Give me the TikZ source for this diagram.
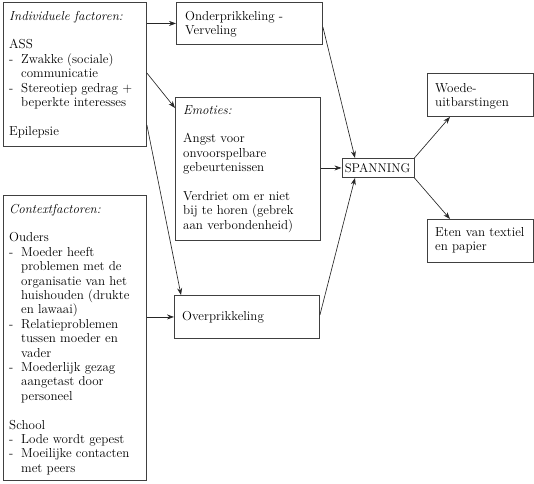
\documentclass[tikz,border=0pt]{standalone}
\usetikzlibrary{arrows.meta}
\newcommand{\itm}[1]{\makebox[12pt][l]{-}#1}
\newcommand{\ind}{\hspace*{12pt}}
\begin{document}
\begin{tikzpicture}[x=1pt,y=-1pt,
  box/.style={draw=black!75,line width=0.9pt,anchor=north west,inner sep=0pt,minimum width=#1},
  txt/.style={anchor=base west,inner sep=0pt,font=\fontsize{13}{14.4}\selectfont},
  arr/.style={draw=black!85,line width=0.65pt,-{Stealth[length=7pt,width=5pt]}}]
\useasboundingbox (0,0) rectangle (534,483);
% boxes
\node[box=143pt,minimum height=144pt] (b1) at (3,2) {};
\node[box=143pt,minimum height=285pt] (b2) at (3,195) {};
\node[box=146pt,minimum height=42pt] (bon) at (176,2) {};
\node[box=145pt,minimum height=143pt] (bem) at (175,97) {};
\node[box=145pt,minimum height=43pt] (bov) at (174,295) {};
\node[box=72pt,minimum height=19pt] (bsp) at (341.5,158) {};
\node[box=106pt,minimum height=43pt] (bwo) at (427,73) {};
\node[box=106pt,minimum height=43pt] (bet) at (427,219) {};
% texts
\node[txt] (t1) at (9,20) {\parbox[t]{140pt}{\fontsize{13}{14.4}\selectfont\raggedright
  \textit{Individuele factoren:}\\[14.4pt]
  ASS\\
  \itm{Zwakke (sociale)}\\
  \ind communicatie\\
  \itm{Stereotiep gedrag +}\\
  \ind beperkte interesses\\[14.4pt]
  Epilepsie}};
\node[txt] (t2) at (9,213) {\parbox[t]{140pt}{\fontsize{13}{14.4}\selectfont\raggedright
  \textit{Contextfactoren:}\\[14.4pt]
  Ouders\\
  \itm{Moeder heeft}\\
  \ind problemen met de\\
  \ind organisatie van het\\
  \ind huishouden (drukte\\
  \ind en lawaai)\\
  \itm{Relatieproblemen}\\
  \ind tussen moeder en\\
  \ind vader\\
  \itm{Moederlijk gezag}\\
  \ind aangetast door\\
  \ind personeel\\[14.4pt]
  School\\
  \itm{Lode wordt gepest}\\
  \itm{Moeilijke contacten}\\
  \ind met peers}};
\node[txt] (ton) at (185,20) {\parbox[t]{140pt}{\fontsize{13}{14.4}\selectfont\raggedright
  Onderprikkeling -\\ Verveling}};
\node[txt] (tem) at (183,114) {\parbox[t]{140pt}{\fontsize{13}{14.4}\selectfont\raggedright
  \textit{Emoties:}\\[14.4pt]
  Angst voor\\
  onvoorspelbare\\
  gebeurtenissen\\[14.4pt]
  Verdriet om er niet\\
  bij te horen (gebrek\\
  aan verbondenheid)}};
\node[txt] (tov) at (182,320) {Overprikkeling};
\node[txt,anchor=base,font=\fontsize{12.6}{14.4}\selectfont] (tsp) at (377.5,172) {SPANNING};
\node[txt] (two) at (435,92) {\parbox[t]{100pt}{\fontsize{13}{14.4}\selectfont\raggedright
  Woede-\\ uitbarstingen}};
\node[txt] (tet) at (435,236) {\parbox[t]{100pt}{\fontsize{13}{14.4}\selectfont\raggedright
  Eten van textiel\\ en papier}};
% arrows
\draw[arr] (b1.east |- bon.west) -- (bon.west);
\draw[arr] ([yshift=-71pt]b1.north east) -- ([yshift=-11pt]bem.north west);
\draw[arr] ([yshift=-123pt]b1.north east) -- ([xshift=7pt]bov.north west);
\draw[arr] (b2.east |- bov.west) -- (bov.west);
\draw[arr] ([yshift=-25pt]bon.north east) -- ([xshift=13.5pt]bsp.north west);
\draw[arr] (bem.east |- bsp.west) -- (bsp.west);
\draw[arr] ([yshift=-20pt]bov.north east) -- ([xshift=13.5pt]bsp.south west);
\draw[arr] (bsp.north east) -- ([xshift=23pt]bwo.south west);
\draw[arr] (bsp.south east) -- ([xshift=23pt]bet.north west);
\end{tikzpicture}
\end{document}
